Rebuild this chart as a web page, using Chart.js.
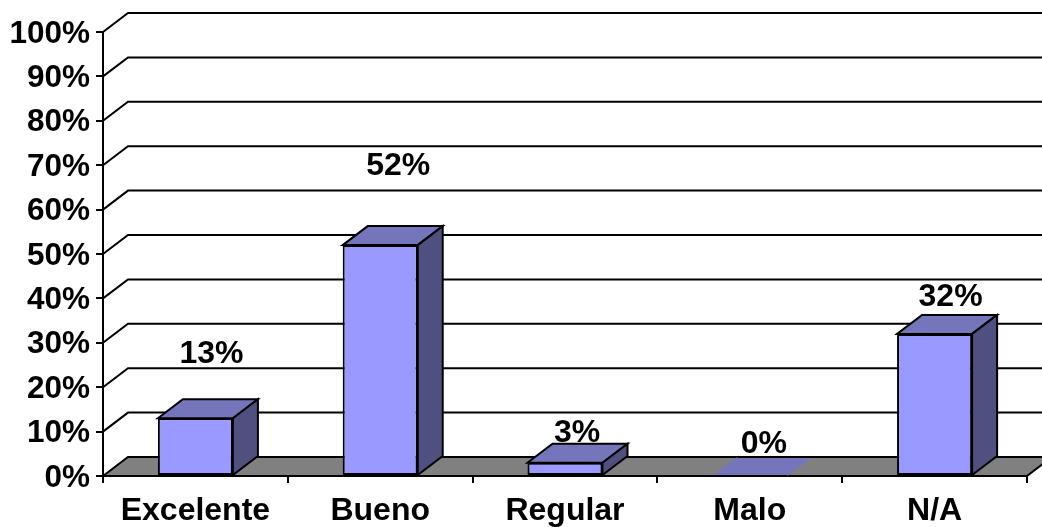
<!DOCTYPE html>
<html>
<head>
<meta charset="utf-8">
<title>Chart</title>
<script src="https://cdn.jsdelivr.net/npm/chart.js@4"></script>
<style>
    html, body { margin: 0; padding: 0; background: #fff; }
    canvas { display: block; }
</style>
</head>
<body>
<canvas id="chart" width="1042" height="527"></canvas>
<script>
const categories = ['Excelente', 'Bueno', 'Regular', 'Malo', 'N/A'];
const values = [13, 52, 3, 0, 32];
const yTicks = [0, 10, 20, 30, 40, 50, 60, 70, 80, 90, 100];

// moved by hand in the original, so every label has its own offset from the bar top
const labelDx = [16, 18, 12, 14, 16];
const labelDy = [-45, -60, -11, -13, -18];

const DEPTH_X = 25;
const DEPTH_Y = 19;
const FONT = '"Liberation Sans", Arial, sans-serif';

function poly(ctx, pts, fill, stroke) {
    ctx.beginPath();
    pts.forEach((p, i) => i ? ctx.lineTo(p[0], p[1]) : ctx.moveTo(p[0], p[1]));
    ctx.closePath();
    ctx.fillStyle = fill;
    ctx.fill();
    if (stroke) {
        ctx.strokeStyle = '#000';
        ctx.lineWidth = 2;
        ctx.stroke();
    }
}

function hline(ctx, x1, x2, y) {
    ctx.strokeStyle = '#000';
    ctx.lineWidth = 2;
    ctx.beginPath();
    ctx.moveTo(x1, y);
    ctx.lineTo(x2, y);
    ctx.stroke();
}

// Back wall and floor, behind the bars
const wallPlugin = {
    id: 'wall',
    beforeDatasetsDraw(chart) {
        const ctx = chart.ctx;
        const { left, right, bottom } = chart.chartArea;
        const y = chart.scales.y;
        ctx.save();
        ctx.strokeStyle = '#000';
        ctx.lineWidth = 2;
        yTicks.filter(v => v > 0).forEach(v => {
            const py = y.getPixelForValue(v);
            ctx.beginPath();
            ctx.moveTo(left, py);
            ctx.lineTo(left + DEPTH_X, py - DEPTH_Y);
            ctx.lineTo(right + DEPTH_X, py - DEPTH_Y);
            ctx.stroke();
        });
        poly(ctx, [
            [left, bottom],
            [left + DEPTH_X, bottom - DEPTH_Y],
            [right + DEPTH_X, bottom - DEPTH_Y],
            [right, bottom]
        ], '#808080', true);
        ctx.restore();
    }
};

// Top and side faces of the bars, and the value labels
const barsPlugin = {
    id: 'bars3d',
    afterDatasetsDraw(chart) {
        const ctx = chart.ctx;
        const bars = chart.getDatasetMeta(0).data;
        ctx.save();
        bars.forEach((bar, i) => {
            const half = bar.width / 2;
            const l = bar.x - half, r = bar.x + half;
            const t = bar.y, b = bar.base;
            const solid = values[i] > 0;
            poly(ctx, [[l, t], [l + DEPTH_X, t - DEPTH_Y], [r + DEPTH_X, t - DEPTH_Y], [r, t]], '#7575BB', solid);
            if (solid) {
                poly(ctx, [[r, t], [r + DEPTH_X, t - DEPTH_Y], [r + DEPTH_X, b - DEPTH_Y], [r, b]], '#4F4F80', true);
            } else {
                // empty bar: floor edges stay visible over the lid
                hline(ctx, l, r, b);
                hline(ctx, l + DEPTH_X, r + DEPTH_X, b - DEPTH_Y);
            }
            ctx.fillStyle = '#000';
            ctx.font = 'bold 32px ' + FONT;
            ctx.textAlign = 'center';
            ctx.textBaseline = 'middle';
            ctx.fillText(values[i] + '%', bar.x + labelDx[i], t - DEPTH_Y + labelDy[i]);
        });
        ctx.restore();
    },
    // y tick labels sit a little below their tick in the original
    afterDraw(chart) {
        const ctx = chart.ctx;
        const y = chart.scales.y;
        ctx.save();
        ctx.fillStyle = '#000';
        ctx.font = 'bold 31.5px ' + FONT;
        ctx.textAlign = 'right';
        ctx.textBaseline = 'middle';
        y.ticks.forEach(t => {
            ctx.fillText(t.value + '%', 90, y.getPixelForValue(t.value) + 2);
        });
        ctx.restore();
    }
};

new Chart(document.getElementById('chart'), {
    type: 'bar',
    data: {
        labels: categories,
        datasets: [{
            data: values,
            backgroundColor: '#9999FF',
            borderColor: '#000',
            borderWidth: c => (c.raw > 0 ? 2 : 0),
            borderSkipped: false,
            barPercentage: 0.406,
            categoryPercentage: 1
        }]
    },
    options: {
        responsive: false,
        animation: false,
        layout: { padding: { top: 32, right: 15, left: 0, bottom: 0 } },
        plugins: { legend: { display: false }, tooltip: { enabled: false } },
        scales: {
            x: {
                offset: true,
                afterFit: s => { s.height = 51; },
                border: { color: '#000', width: 2 },
                grid: { offset: true, drawOnChartArea: false, color: '#000', lineWidth: 2, tickLength: 7 },
                ticks: {
                    color: '#000',
                    padding: 9,
                    maxRotation: 0,
                    font: { family: FONT, size: 32, weight: 'bold' }
                }
            },
            y: {
                min: 0,
                max: 100,
                afterFit: s => { s.width = 103; },
                afterBuildTicks: s => { s.ticks = yTicks.map(v => ({ value: v })); },
                border: { color: '#000', width: 2 },
                grid: { drawOnChartArea: false, color: '#000', lineWidth: 2, tickLength: 7 },
                ticks: { display: false }
            }
        }
    },
    plugins: [wallPlugin, barsPlugin]
});
</script>
</body>
</html>
